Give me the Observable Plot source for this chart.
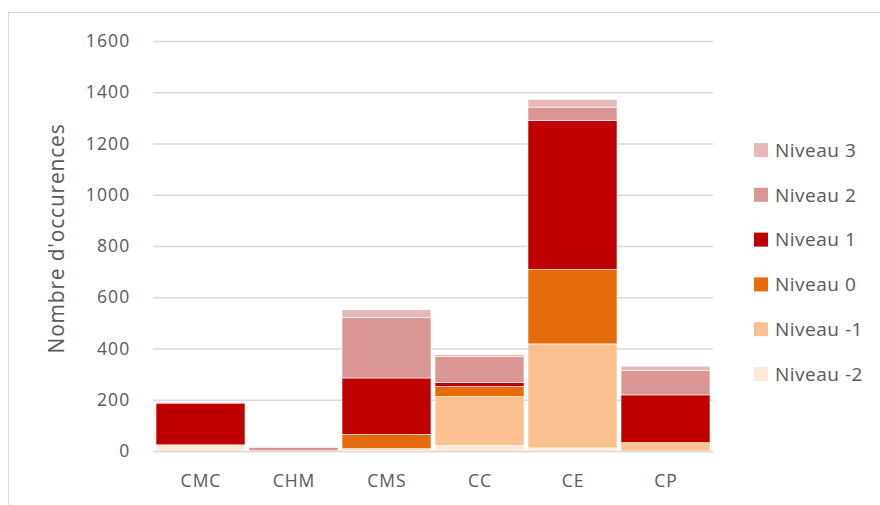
<!DOCTYPE html>
<html>
<head>
<meta charset="utf-8">
<script src="https://cdn.jsdelivr.net/npm/d3@7"></script>
<script src="https://cdn.jsdelivr.net/npm/@observablehq/plot@0.6"></script>
<style>
  html, body { margin: 0; padding: 0; background: #fff; }
  #chart { width: 880px; height: 505px; position: relative; overflow: hidden; }
</style>
</head>
<body>
<div id="chart"></div>
<script>
const categories = ["CMC", "CHM", "CMS", "CC", "CE", "CP"];
const levels = ["Niveau -2", "Niveau -1", "Niveau 0", "Niveau 1", "Niveau 2", "Niveau 3"];
const colors = ["#FDE9D9", "#FAC090", "#E46C0A", "#C00000", "#DA9694", "#E6B8B7"];
// values per level, in category order
const niveauM2 = [22, 0, 4, 21, 12, 0];
const niveauM1 = [0, 0, 5, 191, 406, 28];
const niveau0  = [2, 0, 56, 39, 290, 5];
const niveau1  = [163, 1, 220, 17, 582, 186];
const niveau2  = [3, 12, 235, 100, 52, 96];
const niveau3  = [2, 4, 31, 8, 30, 16];
const yTicks = [0, 200, 400, 600, 800, 1000, 1200, 1400, 1600];

const series = [niveauM2, niveauM1, niveau0, niveau1, niveau2, niveau3];
const data = [];
levels.forEach((lv, i) => categories.forEach((c, j) => data.push({cat: c, level: lv, value: series[i][j]})));

const font = "'Open Sans', 'Liberation Sans', sans-serif";
const plot = Plot.plot({
  width: 880,
  height: 505,
  marginLeft: 153,
  marginRight: 167,
  marginTop: 41,
  marginBottom: 54,
  style: {fontFamily: font, fontSize: "16px", color: "#595959", background: "#fff", overflow: "visible"},
  x: {domain: categories, paddingInner: 0.04, paddingOuter: 0.02},
  y: {domain: [0, 1600]},
  color: {domain: levels, range: colors},
  marks: [
    Plot.gridY(yTicks, {stroke: "#D9D9D9", strokeOpacity: 1, strokeWidth: 1.3}),
    Plot.barY(data, Plot.stackY({order: levels}, {x: "cat", y: "value", z: "level", fill: "level", stroke: "#fff", strokeWidth: 0.6})),
    Plot.ruleY([0], {stroke: "#D9D9D9", strokeWidth: 1.5}),
    Plot.axisY({ticks: yTicks, tickFormat: d => String(d), tickSize: 0, tickPadding: 23, label: "Nombre d'occurences", labelAnchor: "center", labelArrow: "none", labelOffset: 104}),
    Plot.axisX({tickSize: 0, tickPadding: 23, label: null})
  ]
});
document.getElementById("chart").appendChild(plot);

const svg = d3.select(plot);
svg.selectAll("[aria-label='y-axis tick label'] text").style("font-size", "17.5px").style("letter-spacing", "1.2px");
svg.selectAll("[aria-label='x-axis tick label'] text").style("font-size", "17.5px").style("letter-spacing", "1px");
svg.selectAll("[aria-label='y-axis label'] text").style("font-size", "21px").style("letter-spacing", "0.8px").attr("dx", 8);

// frame
svg.append("rect").attr("x", 8.5).attr("y", 12.5).attr("width", 900).attr("height", 600)
  .attr("fill", "none").attr("stroke", "#D9D9D9").attr("stroke-width", 1);

// legend (top to bottom: Niveau 3 ... Niveau -2)
const legendOrder = levels.slice().reverse();
const lg = svg.append("g").attr("font-family", font).attr("font-size", 19).attr("fill", "#595959").attr("text-anchor", "start");
legendOrder.forEach((lv, i) => {
  const cy = 150 + i * 44.8;
  lg.append("rect").attr("x", 754).attr("y", cy - 7).attr("width", 14).attr("height", 14)
    .attr("fill", colors[levels.indexOf(lv)]);
  lg.append("text").attr("x", 775).attr("y", cy).attr("dy", "0.36em").style("letter-spacing", "0.5px").text(lv);
});
</script>
</body>
</html>
